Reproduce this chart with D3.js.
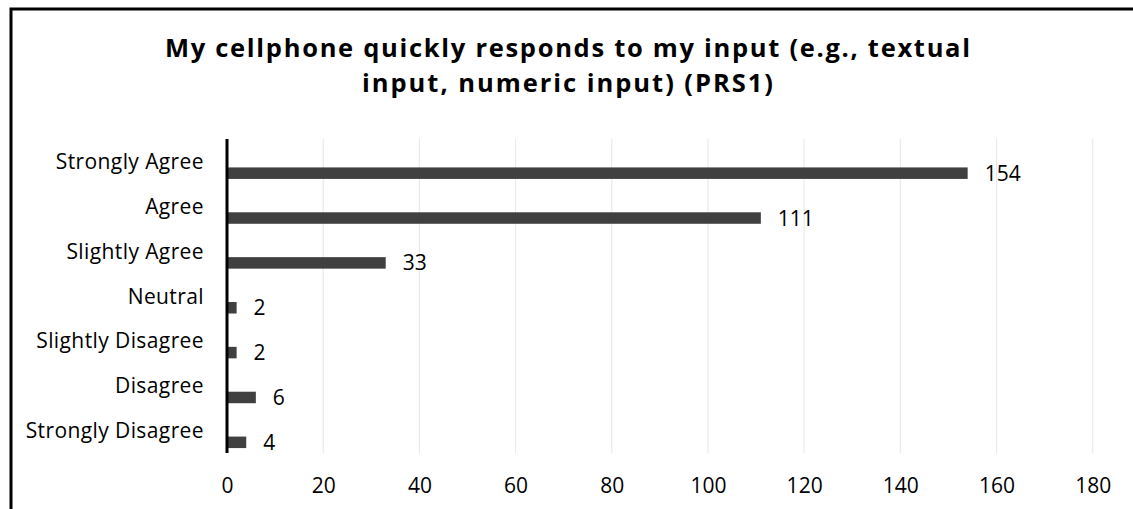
<!DOCTYPE html>
<html>
<head>
  <meta charset="utf-8">
  <script src="https://d3js.org/d3.v7.min.js"></script>
  <style>
    body { margin: 0; background: #fff; }
    svg { display: block; }
    text { font-family: "Open Sans", sans-serif; fill: #000; }
  </style>
</head>
<body>
<script>
  // chart data
  var categories = ["Strongly Agree", "Agree", "Slightly Agree", "Neutral",
                    "Slightly Disagree", "Disagree", "Strongly Disagree"];
  var counts = [154, 111, 33, 2, 2, 6, 4];
  var xTicks = [0, 20, 40, 60, 80, 100, 120, 140, 160, 180];
  var titleLines = ["My cellphone quickly responds to my input (e.g., textual",
                    "input, numeric input) (PRS1)"];

  var width = 1133, height = 509;
  var fontSize = "21px";

  var svg = d3.select("body").append("svg")
      .attr("width", width)
      .attr("height", height);

  // frame (only top and left edges show in the picture)
  svg.append("rect")
      .attr("x", 11).attr("y", 9)
      .attr("width", width + 20).attr("height", height + 20)
      .attr("fill", "none")
      .attr("stroke", "#000")
      .attr("stroke-width", 3);

  // title
  svg.selectAll(".title")
      .data(titleLines)
    .enter().append("text")
      .attr("class", "title")
      .attr("x", 567.5)
      .attr("y", function (d, i) { return 57 + i * 34.5; })
      .attr("text-anchor", "middle")
      .attr("textLength", function (d, i) { return i === 0 ? 805 : 411; })
      .attr("lengthAdjust", "spacing")
      .style("font-size", "25.5px")
      .style("font-weight", "bold")
      .text(function (d) { return d; });

  var x = d3.scaleLinear().domain([0, 180]).range([227, 1092.7]);
  var y = d3.scaleBand().domain(categories).range([139, 453]).paddingInner(0);

  // gridlines
  svg.append("g")
    .selectAll("line")
      .data(xTicks.slice(1))
    .enter().append("line")
      .attr("x1", function (d) { return x(d); })
      .attr("x2", function (d) { return x(d); })
      .attr("y1", 139).attr("y2", 453)
      .attr("stroke", "#e9e9e9")
      .attr("stroke-width", 1.2);

  // x tick labels
  var xAxis = d3.axisBottom(x).tickValues(xTicks).tickSize(0).tickPadding(0);
  var gx = svg.append("g")
      .attr("transform", "translate(0,493)")
      .call(xAxis);
  gx.select(".domain").remove();
  gx.selectAll("text")
      .attr("dy", 0)
      .style("font-size", fontSize)
      .style("font-family", "'Open Sans', sans-serif");

  // bars
  var barH = 11.5;
  svg.append("g")
    .selectAll("rect")
      .data(categories)
    .enter().append("rect")
      .attr("x", x(0))
      .attr("y", function (d) { return y(d) + y.bandwidth() / 2 + 6; })
      .attr("width", function (d, i) { return x(counts[i]) - x(0); })
      .attr("height", barH)
      .attr("fill", "#404040");

  // value labels
  svg.append("g")
    .selectAll("text")
      .data(categories)
    .enter().append("text")
      .attr("x", function (d, i) { return x(counts[i]) + 17; })
      .attr("y", function (d) { return y(d) + y.bandwidth() / 2 + 6 + barH / 2; })
      .attr("dy", "0.36em")
      .style("font-size", fontSize)
      .text(function (d, i) { return counts[i]; });

  // category labels
  var yAxis = d3.axisLeft(y).tickSize(0).tickPadding(0);
  var gy = svg.append("g")
      .attr("transform", "translate(204,0)")
      .call(yAxis);
  gy.select(".domain").remove();
  gy.selectAll("text")
      .attr("dy", "0.36em")
      .style("font-size", fontSize)
      .style("letter-spacing", "0.4px")
      .style("font-family", "'Open Sans', sans-serif");

  // vertical axis line
  svg.append("line")
      .attr("x1", x(0)).attr("x2", x(0))
      .attr("y1", 139).attr("y2", 453)
      .attr("stroke", "#000")
      .attr("stroke-width", 3);
</script>
</body>
</html>
